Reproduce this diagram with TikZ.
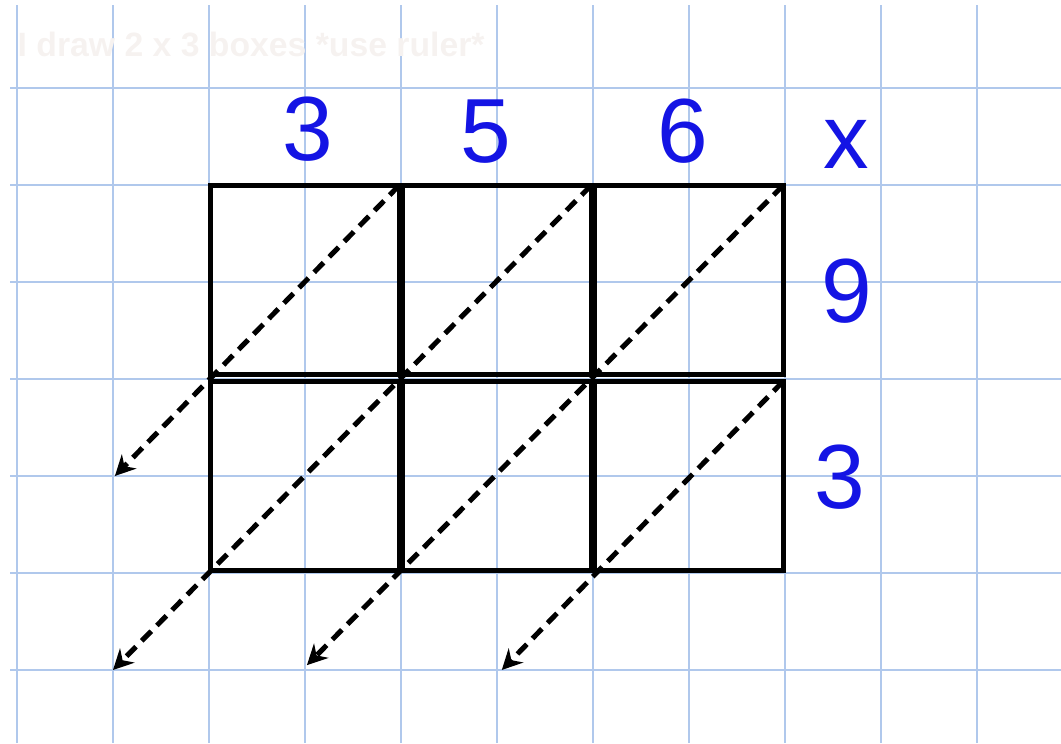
\documentclass[tikz,border=0pt]{standalone}
\usepackage{fontspec}
\setmainfont{Liberation Sans}
\usetikzlibrary{arrows.meta}
\definecolor{gridblue}{RGB}{176,200,236}
\definecolor{penblue}{RGB}{20,20,228}
\definecolor{faint}{RGB}{246,242,240}
\tikzset{
  cellbox/.style={draw, line width=1.5pt, minimum width=1.96cm, minimum height=1.97cm, inner sep=0pt, outer sep=0pt},
  diag/.style={line width=1.5pt, dash pattern=on 4pt off 2.4pt, -{Stealth[length=6pt,width=6pt]}},
  digit/.style={text=penblue, font=\fontsize{27}{27}\selectfont, inner sep=0pt}
}
\begin{document}
\begin{tikzpicture}[x=1cm,y=1.0104cm]
\useasboundingbox (-0.177,-0.753) rectangle (10.875,6.907);

% grid paper
\foreach \i in {0,...,10}
  \draw[gridblue, line width=0.7pt] (\i,-0.753) -- (\i,6.856);
\foreach \j in {0,...,6}
  \draw[gridblue, line width=0.7pt] (-0.07,\j) -- (10.875,\j);

\node[anchor=base west, inner sep=0pt, text=faint, font=\bfseries\fontsize{10}{10}\selectfont] (title) at (0.0,6.32) {I draw 2 x 3 boxes *use ruler*};

% boxes
\node[cellbox] (b11) at (3,4.02) {};
\node[cellbox] (b12) at (5,4.02) {};
\node[cellbox] (b13) at (7,4.02) {};
\node[cellbox] (b21) at (3,2) {};
\node[cellbox] (b22) at (5,2) {};
\node[cellbox] (b23) at (7,2) {};

% diagonals
\coordinate (t1) at (1.02,2.0);
\coordinate (t2) at (1.0,0.0);
\coordinate (t3) at (3.02,0.05);
\coordinate (t4) at (5.05,0.0);
\draw[diag] (b11.north east) -- (t1);
\draw[diag] (b12.north east) -- (t2);
\draw[diag] (b13.north east) -- (t3);
\draw[diag] (b23.north east) -- (t4);

% numbers
\node[digit] (top3) at (3.03,5.58) {3};
\node[digit] (top5) at (4.88,5.55) {5};
\node[digit] (top6) at (6.94,5.55) {6};
\node[digit] (times) at (8.64,5.42) {x};
\node[digit] (side9) at (8.64,3.91) {9};
\node[digit] (side3) at (8.57,1.99) {3};
\end{tikzpicture}
\end{document}
